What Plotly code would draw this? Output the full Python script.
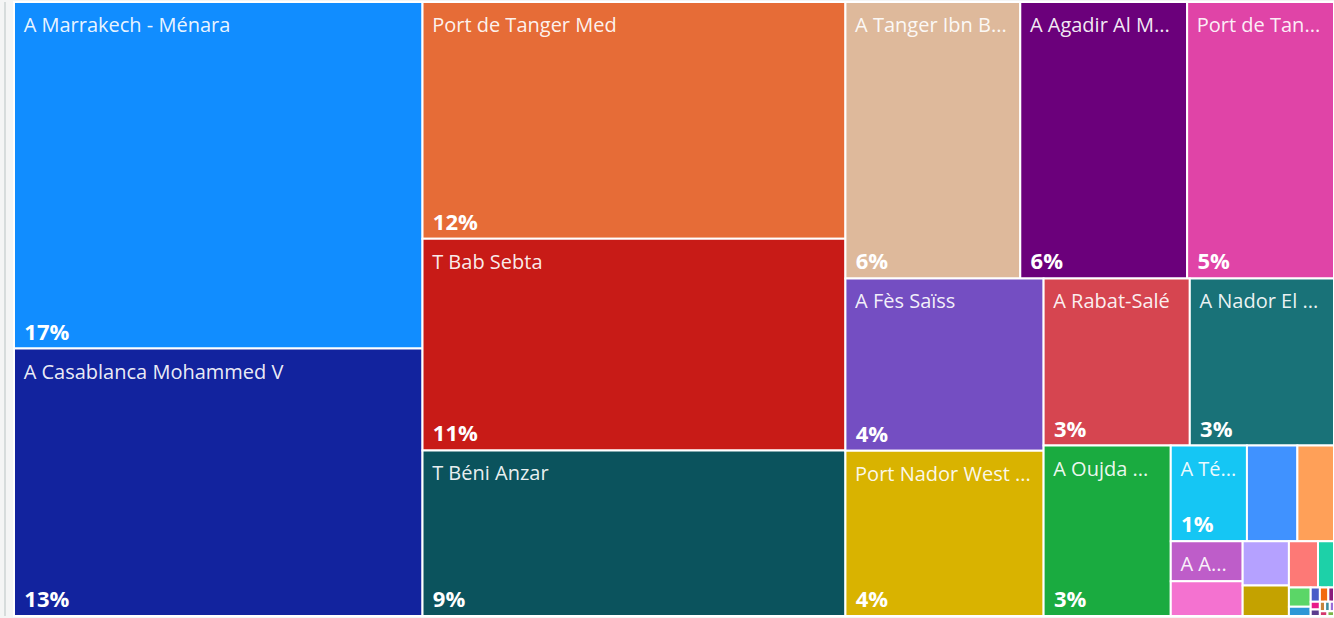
import plotly.graph_objects as go

# ---- data ----
names = [
    "A Marrakech - Ménara", "A Casablanca Mohammed V", "Port de Tanger Med",
    "T Bab Sebta", "T Béni Anzar", "A Tanger Ibn Battouta", "A Agadir Al Massira",
    "Port de Tanger Ville", "A Fès Saïss", "Port Nador West Med", "A Rabat-Salé",
    "A Nador El Aroui", "A Oujda Angads", "A Tétouan Sania R'mel", "A Essaouira Mogador",
    "A Ouarzazate", "A Al Hoceima", "Port de Casablanca", "A Dakhla", "Port d'Agadir",
    "A Laâyoune", "T Guerguarat", "A Errachidia", "Port de Nador", "A Béni Mellal",
    "A Tan Tan", "A Guelmim", "Port de Safi", "A Zagora", "Port de Larache",
    "T Zouj Beghal", "Port de Mohammedia", "A Bouarfa", "Port de Jorf Lasfar",
]
values = [
    140476, 108400, 99356, 88831, 69465, 47950, 45758, 40278, 33884, 32505,
    24255, 23925, 21500, 7238, 4794, 3478, 2840, 2485, 2025, 1400,
    1330, 731, 418, 200, 130, 120, 80, 70, 60, 50, 45, 40, 35, 30,
]
shown_names = [
    "A Marrakech - Ménara", "A Casablanca Mohammed V", "Port de Tanger Med",
    "T Bab Sebta", "T Béni Anzar", "A Tanger Ibn B...", "A Agadir Al M...",
    "Port de Tan...", "A Fès Saïss", "Port Nador West ...", "A Rabat-Salé",
    "A Nador El ...", "A Oujda ...", "A Té...", "", "", "A A...",
]
colors = [
    "#118DFF", "#12239E", "#E66C37", "#C81B17", "#0B535D", "#DEB99B", "#6B007B",
    "#E044A7", "#744EC2", "#D9B300", "#D64550", "#197278", "#1AAB40", "#15C6F4",
    "#4092FF", "#FFA058", "#BE5DC9", "#F472D0", "#B5A1FF", "#C4A200", "#FD7976",
    "#1DD1A8", "#5BD667", "#2C97D6", "#4A5CC8", "#F2690F", "#8B1D7C", "#E8198B",
    "#5B3C8E", "#C7853C", "#3E8E9E", "#9C6DD8", "#D4376D", "#7AB648",
]
n_pct = 14  # cells large enough to show their share

SP = "\u2009\u2009"
labels_text = [
    SP + "<span style='baseline-shift:-6px'>" + shown_names[i] + "</span>"
    if i < len(shown_names) and shown_names[i] else ""
    for i in range(len(names))
]
pct_tpl = [SP + "%{percentRoot:.0%}" if i < n_pct else "" for i in range(len(names))]
parents = [""] * len(names)

common = dict(
    labels=names, parents=parents, values=values, sort=True,
    tiling=dict(packing="squarify", squarifyratio=1.618034, pad=0),
    pathbar=dict(visible=False), root=dict(color="rgba(0,0,0,0)"),
    domain=dict(x=[0, 1], y=[0, 1]),
)
nopad = dict(t=0, l=0, r=0, b=0)

fig = go.Figure()
fig.add_trace(go.Treemap(
    **common,
    marker=dict(colors=colors, line=dict(color="#FFFFFF", width=2), pad=nopad),
    text=labels_text,
    texttemplate="%{text}",
    textposition="top left",
    textfont=dict(family="Open Sans", size=20, color="rgba(255,255,255,0.93)"),
    hovertemplate="%{label}<br>%{value}<br>%{percentRoot:.1%}<extra></extra>",
))
fig.add_trace(go.Treemap(
    **common,
    marker=dict(colors=["rgba(0,0,0,0)"] * len(names), line=dict(width=0), pad=nopad),
    texttemplate=pct_tpl,
    textposition="bottom left",
    textfont=dict(family="Open Sans", size=22, color="#FFFFFF", weight="bold"),
    hoverinfo="skip",
))

fig.add_shape(type="line", xref="paper", yref="paper",
              x0=-9 / 1320, x1=-9 / 1320, y0=0, y1=1,
              line=dict(color="#B9C3C3", width=1))

fig.update_layout(
    width=1334, height=618,
    margin=dict(l=14, r=0, t=2, b=2),
    paper_bgcolor="#F4F5F5",
    showlegend=False,
)

fig.write_html("out.html", config={"displayModeBar": False},
               post_script="document.body.style.margin='0';")
